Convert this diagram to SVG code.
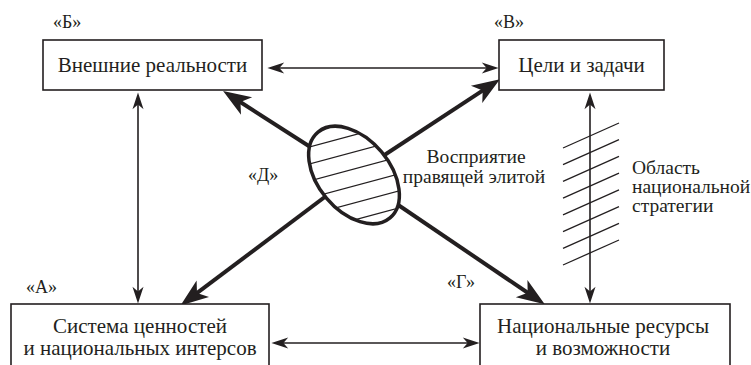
<svg xmlns="http://www.w3.org/2000/svg" width="751" height="365" viewBox="0 0 751 365">
<defs>
<marker id="ah" markerUnits="userSpaceOnUse" markerWidth="24" markerHeight="20" viewBox="-14 -8 20 16" refX="0" refY="0" orient="auto-start-reverse" overflow="visible">
<path d="M3,0 L-11,-4.6 L-7,0 L-11,4.6 Z" fill="#231f20"/>
</marker>
<marker id="ahb" markerUnits="userSpaceOnUse" markerWidth="34" markerHeight="30" viewBox="-16 -11 28 22" refX="0" refY="0" orient="auto" overflow="visible">
<path d="M10,0 L-13,-8.5 L-7,0 L-13,8.5 Z" fill="#231f20"/>
</marker>
<clipPath id="ec"><ellipse cx="354" cy="175" rx="56" ry="36" transform="rotate(50 354 175)"/></clipPath>
</defs>

<g id="connectors" fill="none" stroke="#231f20">
<g stroke-width="1.6">
<line x1="271" y1="68" x2="495" y2="68" marker-start="url(#ah)" marker-end="url(#ah)"/>
<line x1="138" y1="96" x2="138" y2="300" marker-start="url(#ah)" marker-end="url(#ah)"/>
<line x1="590" y1="96" x2="590" y2="300" marker-start="url(#ah)" marker-end="url(#ah)"/>
<line x1="275" y1="343" x2="476" y2="343" marker-start="url(#ah)" marker-end="url(#ah)"/>
</g>
<g stroke-width="4">
<line x1="354" y1="175" x2="233.3" y2="97.5" marker-end="url(#ahb)"/>
<line x1="354" y1="175" x2="534.7" y2="297.5" marker-end="url(#ahb)"/>
<line x1="354" y1="175" x2="489.8" y2="85.8" marker-end="url(#ahb)"/>
<line x1="354" y1="175" x2="190.2" y2="298.2" marker-end="url(#ahb)"/>
</g>
</g>

<g id="strategy-area">
<g stroke="#231f20" stroke-width="1.3">
<line x1="563" y1="148" x2="619" y2="123"/>
<line x1="563" y1="164.7" x2="619" y2="139.7"/>
<line x1="563" y1="181.4" x2="619" y2="156.4"/>
<line x1="563" y1="198.1" x2="619" y2="173.1"/>
<line x1="563" y1="214.9" x2="619" y2="189.9"/>
<line x1="563" y1="231.6" x2="619" y2="206.6"/>
<line x1="563" y1="248.3" x2="619" y2="223.3"/>
<line x1="563" y1="265" x2="619" y2="240"/>
</g>
<text x="632" y="174" style="font-family:'Liberation Serif',serif;font-size:19.5px;fill:#231f20">Область</text>
<text x="632" y="193" style="font-family:'Liberation Serif',serif;font-size:19.5px;fill:#231f20">национальной</text>
<text x="632" y="212" style="font-family:'Liberation Serif',serif;font-size:19.5px;fill:#231f20">стратегии</text>
</g>

<g id="elite">
<ellipse cx="354" cy="175" rx="56" ry="36" transform="rotate(50 354 175)" fill="#fff"/>
<g stroke="#231f20" stroke-width="1.3" clip-path="url(#ec)">
<line x1="290" y1="152.3" x2="420" y2="117.2"/>
<line x1="290" y1="169.3" x2="420" y2="134.2"/>
<line x1="290" y1="186.3" x2="420" y2="151.2"/>
<line x1="290" y1="203.3" x2="420" y2="168.2"/>
<line x1="290" y1="220.3" x2="420" y2="185.2"/>
<line x1="290" y1="237.3" x2="420" y2="202.2"/>
</g>
<ellipse cx="354" cy="175" rx="56" ry="36" transform="rotate(50 354 175)" fill="none" stroke="#231f20" stroke-width="3.5"/>
<text x="476" y="163" style="font-family:'Liberation Serif',serif;font-size:19.5px;fill:#231f20;text-anchor:middle">Восприятие</text>
<text x="474" y="183" style="font-family:'Liberation Serif',serif;font-size:19.5px;fill:#231f20;text-anchor:middle">правящей элитой</text>
<text x="248" y="181" style="font-family:'Liberation Serif',serif;font-size:18px;fill:#231f20">«Д»</text>
</g>

<g id="node-B">
<rect x="43" y="40" width="219" height="50" fill="#fff" stroke="#231f20" stroke-width="1.6"/>
<text x="152.5" y="72" style="font-family:'Liberation Serif',serif;font-size:21px;fill:#231f20;text-anchor:middle">Внешние реальности</text>
<text x="53" y="28" style="font-family:'Liberation Serif',serif;font-size:18px;fill:#231f20">«Б»</text>
</g>

<g id="node-V">
<rect x="499" y="40" width="165" height="50" fill="#fff" stroke="#231f20" stroke-width="1.6"/>
<text x="581.5" y="72" style="font-family:'Liberation Serif',serif;font-size:21px;fill:#231f20;text-anchor:middle">Цели и задачи</text>
<text x="494" y="28" style="font-family:'Liberation Serif',serif;font-size:18px;fill:#231f20">«В»</text>
</g>

<g id="node-A">
<rect x="11" y="304" width="258" height="70" fill="#fff" stroke="#231f20" stroke-width="1.6"/>
<text x="140" y="333" style="font-family:'Liberation Serif',serif;font-size:21px;fill:#231f20;text-anchor:middle">Система ценностей</text>
<text x="140" y="355" style="font-family:'Liberation Serif',serif;font-size:21px;fill:#231f20;text-anchor:middle">и национальных интерсов</text>
<text x="26" y="293" style="font-family:'Liberation Serif',serif;font-size:18px;fill:#231f20">«А»</text>
</g>

<g id="node-G">
<rect x="480" y="304" width="250" height="70" fill="#fff" stroke="#231f20" stroke-width="1.6"/>
<text x="603" y="333" style="font-family:'Liberation Serif',serif;font-size:21px;fill:#231f20;text-anchor:middle">Национальные ресурсы</text>
<text x="603" y="355" style="font-family:'Liberation Serif',serif;font-size:21px;fill:#231f20;text-anchor:middle">и возможности</text>
<text x="447" y="288" style="font-family:'Liberation Serif',serif;font-size:18px;fill:#231f20">«Г»</text>
</g>
</svg>
